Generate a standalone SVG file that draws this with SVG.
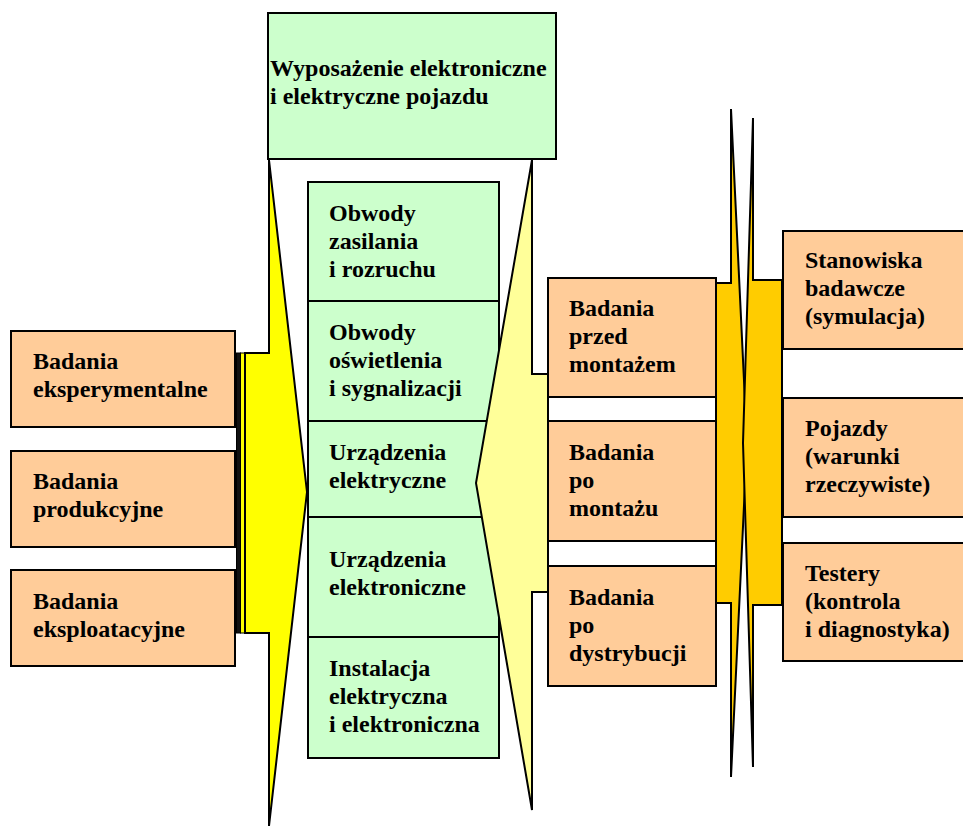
<svg xmlns="http://www.w3.org/2000/svg" width="963" height="827" viewBox="0 0 963 827">
<style>
text{font-family:"Liberation Serif","Times New Roman",serif;font-weight:bold;font-size:24px;fill:#000}
.g{fill:#CCFFCC;stroke:#000;stroke-width:2}
.o{fill:#FFCC99;stroke:#000;stroke-width:2}
.c{stroke:#000;stroke-width:2;stroke-linejoin:miter}
</style>
<rect width="963" height="827" fill="#fff"/>
<g id="top"><rect class="g" x="268" y="13" width="288" height="146"/>
<text x="270" y="76">Wyposażenie elektroniczne</text><text x="270" y="104">i elektryczne pojazdu</text></g>
<g id="g1"><rect class="g" x="308" y="182" width="191" height="119"/>
<text x="329" y="221">Obwody</text><text x="329" y="249">zasilania</text><text x="329" y="277">i rozruchu</text></g>
<g id="g2"><rect class="g" x="308" y="301" width="191" height="120"/>
<text x="329" y="340">Obwody</text><text x="329" y="368">oświetlenia</text><text x="329" y="396">i sygnalizacji</text></g>
<g id="g3"><rect class="g" x="308" y="421" width="191" height="96"/>
<text x="329" y="460">Urządzenia</text><text x="329" y="488">elektryczne</text></g>
<g id="g4"><rect class="g" x="308" y="517" width="191" height="120"/>
<text x="329" y="567">Urządzenia</text><text x="329" y="595">elektroniczne</text></g>
<g id="g5"><rect class="g" x="308" y="637" width="191" height="121"/>
<text x="329" y="676">Instalacja</text><text x="329" y="704">elektryczna</text><text x="329" y="732">i elektroniczna</text></g>
<g id="connectors">
<rect x="236.5" y="353" width="4" height="280" fill="#111" stroke="#000" stroke-width="1"/>
<rect x="240.5" y="353" width="4" height="280" fill="#FFFF00" stroke="#000" stroke-width="1"/>
<polygon class="c" fill="#FFFF00" points="269,160 307,492 269,826 269,633 245,633 245,353 269,353"/>
<polygon class="c" fill="#FFFF99" points="532,160 476,483 532,810 532,592 548,592 548,374 532,374"/>
<polygon class="c" fill="#FFCC00" points="731,109 747,443 731,777 731,603 716,603 716,283 731,283"/>
<polygon class="c" fill="#FFCC00" points="753,118 753,280 782,280 782,605 753,605 753,767 743,443"/>
</g>
<g id="l1"><rect class="o" x="11" y="331" width="224" height="96"/>
<text x="33" y="369">Badania</text><text x="33" y="397">eksperymentalne</text></g>
<g id="l2"><rect class="o" x="11" y="451" width="224" height="96"/>
<text x="33" y="489">Badania</text><text x="33" y="517">produkcyjne</text></g>
<g id="l3"><rect class="o" x="11" y="570" width="224" height="96"/>
<text x="33" y="609">Badania</text><text x="33" y="637">eksploatacyjne</text></g>
<g id="m1"><rect class="o" x="548" y="278" width="168" height="119"/>
<text x="569" y="316">Badania</text><text x="569" y="344">przed</text><text x="569" y="372">montażem</text></g>
<g id="m2"><rect class="o" x="548" y="421" width="168" height="120"/>
<text x="569" y="460">Badania</text><text x="569" y="488">po</text><text x="569" y="516">montażu</text></g>
<g id="m3"><rect class="o" x="548" y="566" width="168" height="120"/>
<text x="569" y="605">Badania</text><text x="569" y="633">po</text><text x="569" y="661">dystrybucji</text></g>
<g id="r1"><rect class="o" x="783" y="231" width="190" height="118"/>
<text x="805" y="268">Stanowiska</text><text x="805" y="296">badawcze</text><text x="805" y="324">(symulacja)</text></g>
<g id="r2"><rect class="o" x="783" y="398" width="190" height="119"/>
<text x="805" y="436">Pojazdy</text><text x="805" y="464">(warunki</text><text x="805" y="492">rzeczywiste)</text></g>
<g id="r3"><rect class="o" x="783" y="543" width="190" height="118"/>
<text x="805" y="581">Testery</text><text x="805" y="609">(kontrola</text><text x="805" y="637">i diagnostyka)</text></g>
</svg>
